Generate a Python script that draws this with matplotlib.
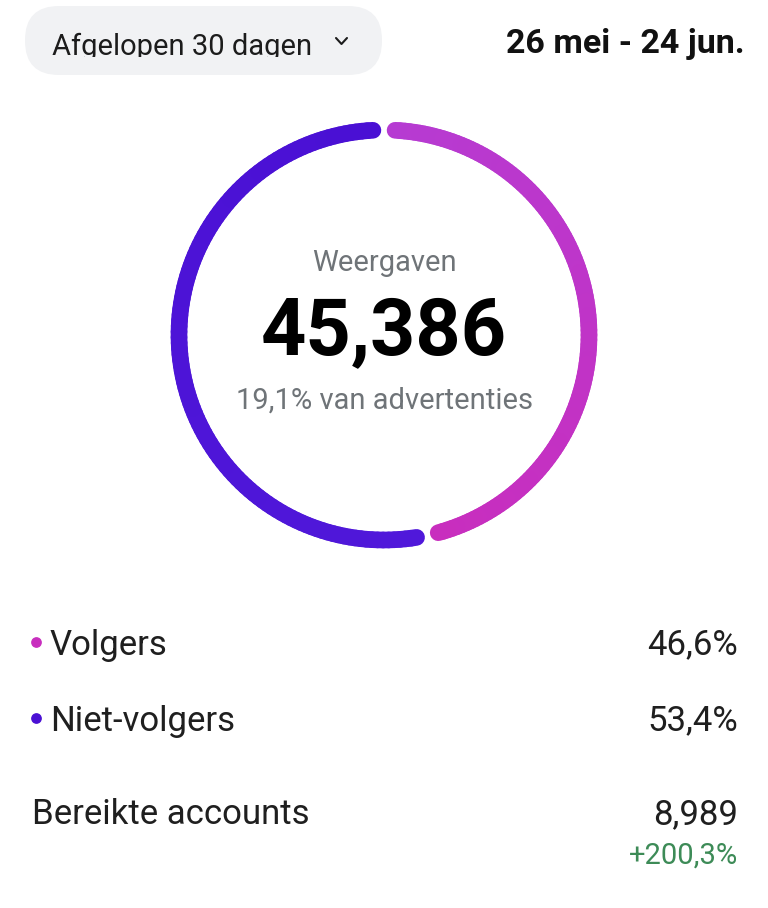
import numpy as np
import matplotlib.pyplot as plt
from matplotlib.patches import FancyBboxPatch
from matplotlib.colors import to_rgb
from matplotlib.transforms import Bbox, TransformedBbox

plt.rcParams['font.family'] = ['Roboto', 'DejaVu Sans']

# data
period_label = "Afgelopen 30 dagen"
date_range = "26 mei - 24 jun."
metric_name = "Weergaven"
metric_total = "45,386"
metric_sub = "19,1% van advertenties"
segments = ["Volgers", "Niet-volgers"]
shares = [46.6, 53.4]
seg_colors = [("#B63BD2", "#C82EBE"), ("#5018DA", "#4A10D4")]
reach_label = "Bereikte accounts"
reach_value = "8,989"
reach_change = "+200,3%"

W, H = 768, 908
fig = plt.figure(figsize=(W / 100, H / 100), dpi=100)
ax = fig.add_axes([0, 0, 1, 1])
ax.set_xlim(0, W)
ax.set_ylim(H, 0)
ax.axis('off')

# top bar
pill = FancyBboxPatch((25, 6), 357, 69, boxstyle="round,pad=0,rounding_size=34",
                      fc="#F1F2F4", ec="none")
ax.add_patch(pill)
t = ax.text(52, 55, period_label, fontsize=21, color="#1c1c1c", va="baseline", ha="left")
# the screenshot cuts the label just under the baseline
t.set_clip_box(TransformedBbox(Bbox([[0, 0], [400, 57]]), ax.transData))
t.set_clip_on(True)
ax.plot([336, 341.5, 347], [38, 44, 38], color="#1c1c1c", lw=1.5, solid_capstyle="round")
ax.text(745, 44, date_range, fontsize=24.5, fontweight="bold", color="#111111",
        va="center", ha="right")

# ring
cx, cy, r = 384, 335, 205
gap = 3.1
start = 0.0
for share, (c0, c1) in zip(shares, seg_colors):
    span = share / 100 * 360
    th = np.linspace(start + gap, start + span - gap, 120)
    xs = cx + r * np.sin(np.radians(th))
    ys = cy - r * np.cos(np.radians(th))
    a, b = np.array(to_rgb(c0)), np.array(to_rgb(c1))
    n = len(th) - 1
    for i in range(n):
        col = a + (b - a) * i / n
        ax.plot(xs[i:i + 2], ys[i:i + 2], color=col, lw=12,
                solid_capstyle="round")
    start += span

ax.text(cx, 263, metric_name, fontsize=21, color="#6f7478", ha="center", va="center")
ax.text(cx, 333, metric_total, fontsize=57, fontweight="bold", color="#000000",
        ha="center", va="center")
ax.text(cx, 401, metric_sub, fontsize=21, color="#6f7478", ha="center", va="center")

# legend rows
row_y = [645, 721]
for name, share, (c0, c1), y in zip(segments, shares, seg_colors, row_y):
    ax.scatter([36], [y - 3], s=45, color=c1, zorder=3)
    ax.text(50, y, name, fontsize=25, color="#1f1f1f", va="center", ha="left")
    ax.text(738, y, f"{share:.1f}%".replace(".", ","), fontsize=25, color="#1f1f1f",
            va="center", ha="right")

ax.text(32, 815, reach_label, fontsize=25, color="#1f1f1f", va="center", ha="left")
ax.text(738, 815, reach_value, fontsize=25, color="#1f1f1f", va="center", ha="right")
ax.text(738, 856, reach_change, fontsize=21, color="#3d8b57", va="center", ha="right")

fig.savefig("out.png", dpi=100, facecolor="white")
